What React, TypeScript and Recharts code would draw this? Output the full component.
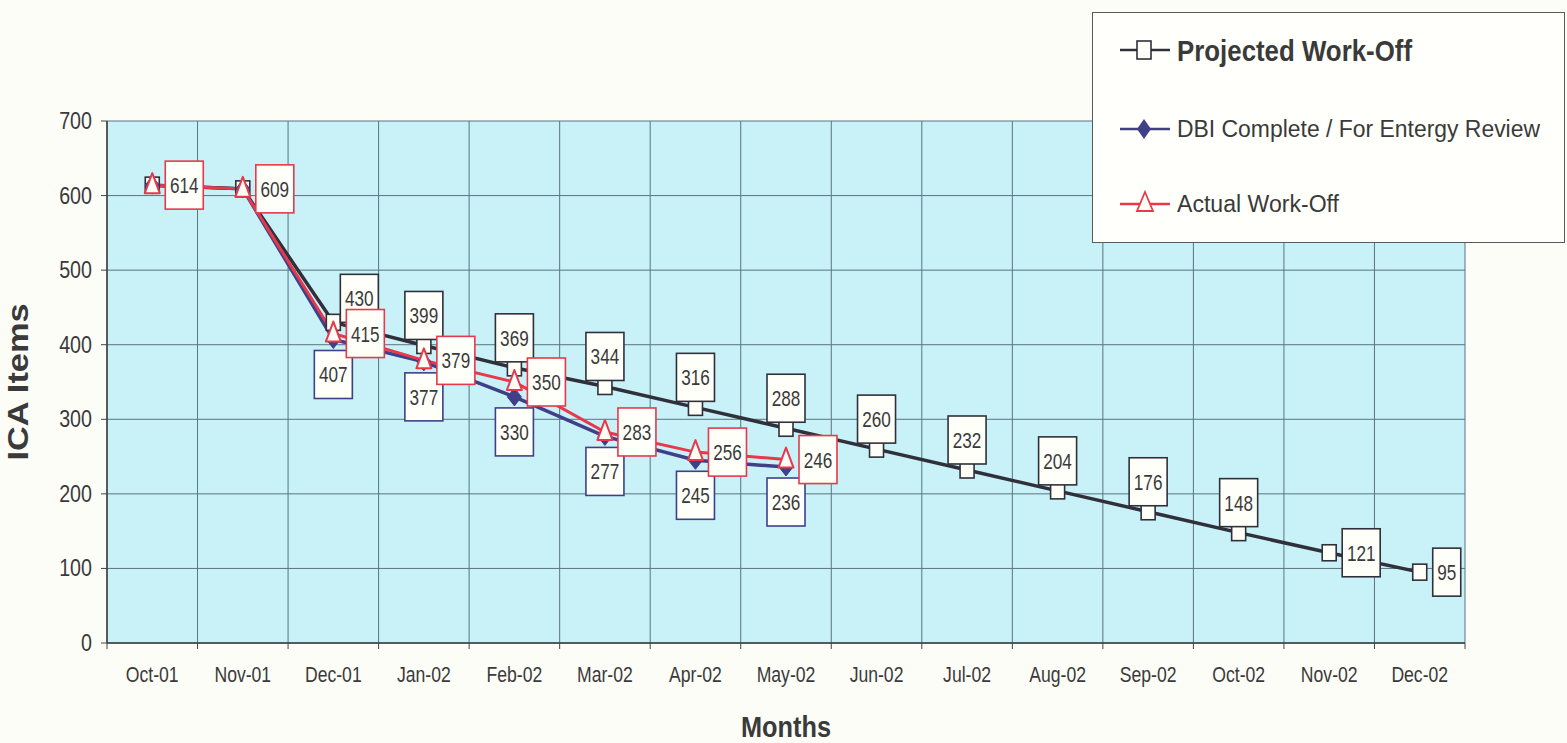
import React from "react";
import {
  LineChart,
  Line,
  XAxis,
  YAxis,
  CartesianGrid,
  Legend,
  LabelList,
} from "recharts";

const months = [
  "Oct-01", "Nov-01", "Dec-01", "Jan-02", "Feb-02", "Mar-02", "Apr-02", "May-02",
  "Jun-02", "Jul-02", "Aug-02", "Sep-02", "Oct-02", "Nov-02", "Dec-02",
];
const projectedWorkOff = [614, 609, 430, 399, 369, 344, 316, 288, 260, 232, 204, 176, 148, 121, 95];
const dbiComplete = [614, 609, 407, 377, 330, 277, 245, 236];
const actualWorkOff = [614, 609, 415, 379, 350, 283, 256, 246];
const yTicks = [0, 100, 200, 300, 400, 500, 600, 700];

// where each projected value label sits relative to its point
const projectedLabelPlace = [
  "none", "none", "aboveRight", "above", "above", "above", "above", "above",
  "above", "above", "above", "above", "above", "right", "right",
];

const chartData = months.map((month, i) => ({
  month,
  projected: projectedWorkOff[i],
  dbi: i < dbiComplete.length ? dbiComplete[i] : null,
  actual: i < actualWorkOff.length ? actualWorkOff[i] : null,
}));

const W = 1567;
const H = 743;
const PLOT_LEFT = 107;
const PLOT_RIGHT = 1465;
const PLOT_TOP = 121;
const PLOT_BOTTOM = 643;
const Y_AXIS_W = 60;
const X_AXIS_H = 60;
const BAND = (PLOT_RIGHT - PLOT_LEFT) / months.length;

const FONT = '"Liberation Sans", Arial, Helvetica, sans-serif';
const TEXT = "#3a3a3a";
const PROJ = "#30303a";
const DBI = "#3f4088";
const ACT = "#e8384c";
const GRID = "#5a7480";
const PLOT_BG = "#c8f1f8";
const SQUEEZE = 0.8; // the original type is narrow

// condensed text helper
const Narrow = ({ x, y, size, children, anchor = "middle", weight = "normal", sx = SQUEEZE }: any) => (
  <text
    transform={`translate(${x},${y}) scale(${sx},1)`}
    x={0}
    y={0}
    textAnchor={anchor}
    fontSize={size}
    fontWeight={weight}
    fontFamily={FONT}
    fill={TEXT}
  >
    {children}
  </text>
);

// ---- markers ----
const SquareDot = (props: any) => {
  const { cx, cy, index } = props;
  if (cx == null || cy == null) return <g key={`sq-${index}`} />;
  return (
    <rect key={`sq-${index}`} x={cx - 7} y={cy - 8} width={14} height={16}
      fill="#fffff8" stroke={PROJ} strokeWidth={1.6} />
  );
};

const DiamondDot = (props: any) => {
  const { cx, cy, index } = props;
  if (cx == null || cy == null) return <g key={`dm-${index}`} />;
  const r = 7;
  return (
    <polygon key={`dm-${index}`}
      points={`${cx},${cy - r - 2} ${cx + r},${cy} ${cx},${cy + r + 2} ${cx - r},${cy}`}
      fill={DBI} stroke={DBI} strokeWidth={1} />
  );
};

const TriangleDot = (props: any) => {
  const { cx, cy, index } = props;
  if (cx == null || cy == null) return <g key={`tr-${index}`} />;
  return (
    <polygon key={`tr-${index}`}
      points={`${cx},${cy - 12} ${cx + 7.5},${cy + 8} ${cx - 7.5},${cy + 8}`}
      fill="#fffff8" stroke={ACT} strokeWidth={2} strokeLinejoin="round" />
  );
};

// ---- value labels ----
const valueBox = (x: number, y: number, value: any, border: string, place: string, key: string) => {
  if (value == null || place === "none" || x == null || y == null) return null;
  const txt = String(value);
  const w = txt.length * 10 + 8;
  const h = 48;
  let bx = x - w / 2;
  let by = y - 6 - h;
  if (place === "aboveRight") {
    bx = x + 7;
    by = y - h;
  } else if (place === "right") {
    bx = x + 13;
    by = y - h / 2;
  } else if (place === "below") {
    bx = x - w / 2;
    by = y + 11;
  }
  return (
    <g key={key}>
      <rect x={bx} y={by} width={w} height={h} fill="#fffffa" stroke={border} strokeWidth={1.6} />
      <Narrow x={bx + w / 2} y={by + h / 2 + 8} size={22} sx={0.78}>{txt}</Narrow>
    </g>
  );
};

const ProjectedLabel = (props: any) =>
  valueBox(props.x, props.y, props.value, PROJ, projectedLabelPlace[props.index] || "above", `pl-${props.index}`);

const DbiLabel = (props: any) =>
  props.index < 2 ? null : valueBox(props.x, props.y, props.value, DBI, "below", `dl-${props.index}`);

const ActualLabel = (props: any) =>
  valueBox(props.x, props.y, props.value, ACT, "right", `al-${props.index}`);

// ---- axes ----
const MonthTick = (props: any) => {
  const { x, y, payload, index } = props;
  const axisY = y - 8;
  return (
    <g>
      <line x1={x - BAND / 2} y1={axisY} x2={x - BAND / 2} y2={axisY + 6} stroke="#444" strokeWidth={1} />
      {index === months.length - 1 && (
        <line x1={x + BAND / 2} y1={axisY} x2={x + BAND / 2} y2={axisY + 6} stroke="#444" strokeWidth={1} />
      )}
      <Narrow x={x} y={y + 31} size={22}>{payload.value}</Narrow>
    </g>
  );
};

const ValueTick = (props: any) => {
  const { x, y, payload } = props;
  return (
    <Narrow x={x} y={y + 8} size={24} anchor="end" sx={0.82}>{payload.value}</Narrow>
  );
};

const YTitle = (props: any) => {
  const vb = props.viewBox || {};
  const cx = vb.x - 19;
  const cy = vb.y + vb.height / 2;
  return (
    <text x={cx} y={cy} transform={`rotate(-90 ${cx} ${cy})`} textAnchor="middle"
      fontSize={29} fontWeight="bold" fontFamily={FONT} fill={TEXT}
      textLength={157} lengthAdjust="spacingAndGlyphs">
      ICA  Items
    </text>
  );
};

const XTitle = (props: any) => {
  const vb = props.viewBox || {};
  return (
    <text x={vb.x + vb.width / 2} y={vb.y + 94} textAnchor="middle" fontSize={30}
      fontWeight="bold" fontFamily={FONT} fill={TEXT} textLength={90} lengthAdjust="spacingAndGlyphs">
      Months
    </text>
  );
};

// ---- legend ----
const LegendPanel = () => (
  <svg width={473} height={231} style={{ display: "block" }}>
    <rect x={0.5} y={0.5} width={472} height={230} fill="#fffffb" stroke="#5a5a5a" strokeWidth={1} />
    <line x1={28} y1={38} x2={78} y2={38} stroke={PROJ} strokeWidth={2.5} />
    <rect x={45} y={29} width={14} height={18} fill="#fffff8" stroke={PROJ} strokeWidth={1.6} />
    <text x={85} y={49} fontSize={30} fontWeight="bold" fontFamily={FONT} fill={TEXT}
      textLength={235} lengthAdjust="spacingAndGlyphs">
      Projected Work-Off
    </text>

    <line x1={28} y1={117} x2={78} y2={117} stroke={DBI} strokeWidth={2.5} />
    <polygon points="52,107 59,117 52,127 45,117" fill={DBI} />
    <text x={85} y={125} fontSize={23} fontFamily={FONT} fill={TEXT}
      textLength={363} lengthAdjust="spacingAndGlyphs">
      DBI Complete / For Entergy Review
    </text>

    <line x1={28} y1={192} x2={78} y2={192} stroke={ACT} strokeWidth={2.5} />
    <polygon points="53,180 61,199 45,199" fill="#fffff8" stroke={ACT} strokeWidth={1.8} />
    <text x={85} y={200} fontSize={23} fontFamily={FONT} fill={TEXT}
      textLength={162} lengthAdjust="spacingAndGlyphs">
      Actual Work-Off
    </text>
  </svg>
);

export default function App() {
  return (
    <div style={{ position: "absolute", left: 0, top: 0, width: W, height: H, background: "#fdfdf8" }}>
      <LineChart
        width={W}
        height={H}
        data={chartData}
        margin={{
          top: PLOT_TOP,
          right: W - PLOT_RIGHT,
          bottom: H - PLOT_BOTTOM - X_AXIS_H,
          left: PLOT_LEFT - Y_AXIS_W,
        }}
      >
        <CartesianGrid
          fill={PLOT_BG}
          stroke={GRID}
          strokeWidth={1}
          verticalCoordinatesGenerator={({ offset }: any) =>
            months.map((_, i) => offset.left + (i * offset.width) / months.length).concat(offset.left + offset.width)
          }
        />
        <XAxis
          dataKey="month"
          scale="band"
          height={X_AXIS_H}
          interval={0}
          tickLine={false}
          axisLine={{ stroke: "#3c3c3c", strokeWidth: 1.5 }}
          tick={<MonthTick />}
          label={<XTitle />}
        />
        <YAxis
          width={Y_AXIS_W}
          domain={[0, 700]}
          ticks={yTicks}
          interval={0}
          tickSize={6}
          tickMargin={9}
          tickLine={{ stroke: "#444" }}
          axisLine={{ stroke: "#3c3c3c", strokeWidth: 1.5 }}
          tick={<ValueTick />}
          label={<YTitle />}
        />
        <Legend
          layout="horizontal"
          verticalAlign="middle"
          align="center"
          content={<LegendPanel />}
          wrapperStyle={{ left: 1092, top: 12, width: 473, height: 231 }}
        />
        <Line
          dataKey="projected"
          name="Projected Work-Off"
          stroke={PROJ}
          strokeWidth={3.5}
          dot={SquareDot}
          activeDot={false}
          isAnimationActive={false}
        >
          <LabelList dataKey="projected" content={ProjectedLabel} />
        </Line>
        <Line
          dataKey="dbi"
          name="DBI Complete / For Entergy Review"
          stroke={DBI}
          strokeWidth={3.5}
          dot={DiamondDot}
          activeDot={false}
          isAnimationActive={false}
        >
          <LabelList dataKey="dbi" content={DbiLabel} />
        </Line>
        <Line
          dataKey="actual"
          name="Actual Work-Off"
          stroke={ACT}
          strokeWidth={3}
          dot={TriangleDot}
          activeDot={false}
          isAnimationActive={false}
        >
          <LabelList dataKey="actual" content={ActualLabel} />
        </Line>
      </LineChart>
    </div>
  );
}
